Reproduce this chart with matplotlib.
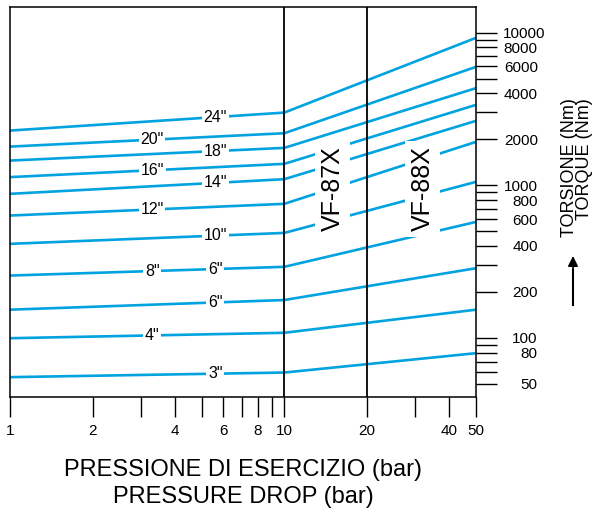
import numpy as np
import matplotlib.pyplot as plt
from matplotlib.ticker import NullLocator
from matplotlib.transforms import offset_copy

plt.rcParams['font.family'] = ['Liberation Sans', 'DejaVu Sans']

# pressione (bar) dei vertici di ogni retta
pressure = [1, 10, 50]

# coppia (Nm) per ogni diametro, dall'alto verso il basso
torque_1 = [2280, 1790, 1450, 1130, 878, 633, 413, 256, 153, 99.5, 55.3]
torque_10 = [2990, 2190, 1756, 1380, 1095, 755, 487, 292, 177, 108, 59.3]
torque_50 = [9230, 5960, 4323, 3360, 2640, 1923, 1052, 575, 286, 153, 79.4]

labels_a = ['24"', '', '18"', '', '14"', '', '10"', '6"', '6"', '', '3"']
labels_b = ['', '20"', '', '16"', '', '12"', '', '8"', '', '4"', '']

xticks = [1, 2, 3, 4, 5, 6, 7, 8, 9, 10, 20, 30, 40, 50]
xticklabels = ['1', '2', '', '4', '', '6', '', '8', '', '10', '20', '', '40', '50']
yticks = [50, 60, 70, 80, 90, 100, 200, 300, 400, 500, 600, 700, 800, 900,
          1000, 2000, 3000, 4000, 5000, 6000, 7000, 8000, 9000, 10000]
yticklabels = ['50', '', '', '80', '', '100', '200', '', '400', '', '600', '', '800', '',
               '1000', '2000', '', '4000', '', '6000', '', '8000', '', '10000']

blue = '#00a3e0'
xa, xb = 5.6, 3.3

fig = plt.figure(figsize=(5.98, 5.19), dpi=100)
ax = fig.add_axes([10 / 598, 122 / 519, 466 / 598, 390 / 519])
ax.set_xscale('log')
ax.set_yscale('log')
ax.set_xlim(1, 50)
ax.set_ylim(41, 14700)

for i in range(len(torque_1)):
    t = [torque_1[i], torque_10[i], torque_50[i]]
    ax.plot(pressure, t, color=blue, lw=1.9, solid_capstyle='butt', zorder=2)
    # posizione dell'etichetta sul primo tratto (retta in log-log)
    lt0, lt1 = np.log10(t[0]), np.log10(t[1])
    for xl, lab in ((xa, labels_a[i]), (xb, labels_b[i])):
        if lab:
            yl = 10 ** (lt0 + np.log10(xl) * (lt1 - lt0))
            ax.text(xl, yl, lab, ha='center', va='center', fontsize=11.5,
                    bbox=dict(facecolor='white', edgecolor='none', pad=1.2), zorder=3)

ax.axvline(10, color='black', lw=1.3, zorder=4)
ax.axvline(20, color='black', lw=1.3, zorder=4)

for xv, name in ((15, 'VF-87X'), (32, 'VF-88X')):
    ax.text(xv, 950, name, rotation=90, ha='center', va='center', fontsize=18,
            bbox=dict(facecolor='white', edgecolor='none', pad=4), zorder=3)

for s in ax.spines.values():
    s.set_linewidth(1.1)

ax.set_xticks(xticks)
ax.set_xticklabels(xticklabels)
ax.xaxis.set_minor_locator(NullLocator())
ax.tick_params(axis='x', length=14.5, width=1, pad=5, labelsize=11)

ax.yaxis.tick_right()
ax.set_yticks(yticks)
ax.set_yticklabels(yticklabels)
ax.yaxis.set_minor_locator(NullLocator())
ax.tick_params(axis='y', length=15, width=1, pad=29.5, labelsize=11)
for lbl in ax.get_yticklabels():
    lbl.set_horizontalalignment('right')
big = ax.get_yticklabels()[-1]
big.set_transform(offset_copy(big.get_transform(), fig=fig, x=8, y=0, units='dots'))

fig.text(577 / 598, 1 - 98 / 519, 'TORSIONE (Nm)\nTORQUE (Nm)', rotation=90, ha='center', va='top',
         multialignment='right', linespacing=0.78, fontsize=13)
fig.add_artist(plt.Line2D([573 / 598, 573 / 598], [1 - 305 / 519, 1 - 270 / 519],
                          color='black', lw=1.5))
ax.annotate('', xy=(573 / 598, 1 - 256 / 519), xytext=(573 / 598, 1 - 276 / 519),
            xycoords='figure fraction', textcoords='figure fraction',
            arrowprops=dict(arrowstyle='-|>', color='black', lw=1.2, mutation_scale=15,
                            shrinkA=0, shrinkB=0))

fig.text(243 / 598, 1 - 470 / 519, 'PRESSIONE DI ESERCIZIO (bar)', ha='center', va='center', fontsize=17)
fig.text(243 / 598, 1 - 497 / 519, 'PRESSURE DROP (bar)', ha='center', va='center', fontsize=17)

fig.savefig('out.png', dpi=100)
